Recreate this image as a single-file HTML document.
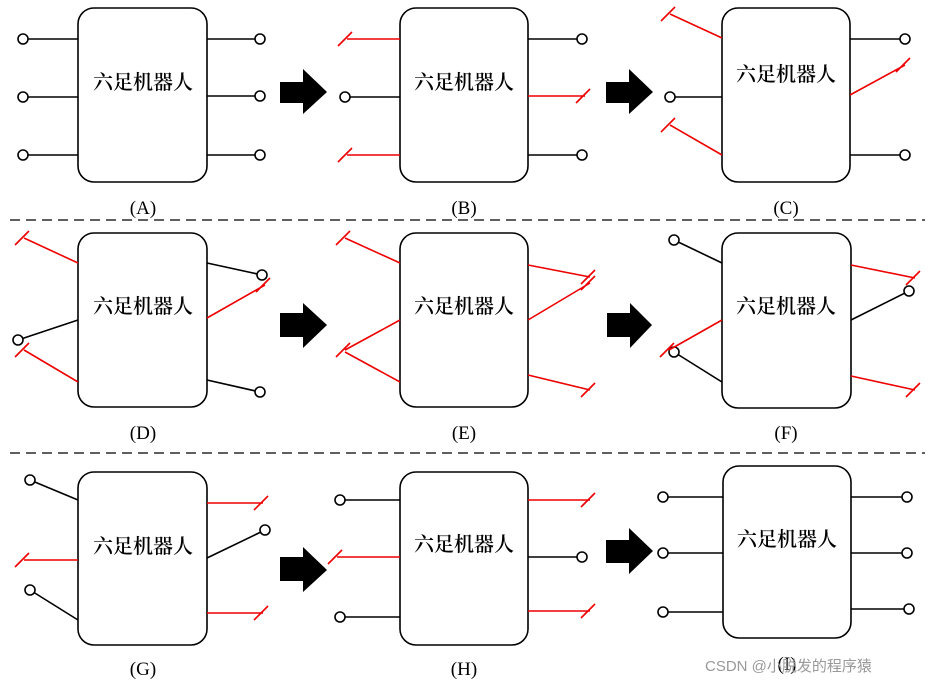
<!DOCTYPE html>
<html><head><meta charset="utf-8"><style>
body{margin:0;background:#fff;width:933px;height:684px;overflow:hidden}
svg{display:block}
text{font-family:"Liberation Serif","Noto Serif CJK SC",serif}
.c{font-family:"Noto Serif CJK SC",serif;font-weight:600}
.l{font-family:"Liberation Sans","Noto Sans CJK SC",sans-serif;font-size:19px}
</style></head><body>
<svg width="933" height="684" viewBox="0 0 933 684">
<g fill="none" stroke="#000" stroke-width="1.6">
<rect x="78" y="8" width="129" height="174" rx="16"/>
<rect x="400" y="8" width="128" height="174" rx="16"/>
<rect x="722" y="8" width="128" height="174" rx="16"/>
<rect x="78" y="233" width="129" height="174" rx="16"/>
<rect x="400" y="233" width="128" height="174" rx="16"/>
<rect x="722" y="233" width="129" height="175" rx="16"/>
<rect x="78" y="472" width="129" height="173" rx="16"/>
<rect x="400" y="472" width="128" height="173" rx="16"/>
<rect x="723" y="466" width="128" height="172" rx="16"/>
</g>
<g stroke="#000" stroke-width="1.2" stroke-dasharray="10,6"><line x1="10" y1="220" x2="925" y2="220"/><line x1="10" y1="453" x2="925" y2="453"/></g>
<g stroke="#000" stroke-width="1.6">
<line x1="78" y1="39" x2="23" y2="39"/><line x1="78" y1="97" x2="23" y2="97"/><line x1="78" y1="155" x2="23" y2="155"/>
<line x1="207" y1="39" x2="260" y2="39"/><line x1="207" y1="96" x2="260" y2="96"/><line x1="207" y1="155" x2="260" y2="155"/>
<line x1="400" y1="97" x2="345" y2="97"/><line x1="528" y1="39" x2="582" y2="39"/><line x1="528" y1="155" x2="582" y2="155"/>
<line x1="722" y1="97" x2="670" y2="97"/><line x1="850" y1="39" x2="905" y2="39"/><line x1="850" y1="155" x2="905" y2="155"/>
<line x1="78" y1="320" x2="18" y2="340"/><line x1="207" y1="263" x2="262" y2="275"/><line x1="207" y1="380" x2="260" y2="392"/>
<line x1="722" y1="263" x2="674" y2="240"/><line x1="722" y1="382" x2="674" y2="352"/><line x1="851" y1="320" x2="909" y2="291"/>
<line x1="78" y1="500" x2="30" y2="480"/><line x1="78" y1="620" x2="30" y2="590"/><line x1="207" y1="558" x2="265" y2="530"/>
<line x1="400" y1="500" x2="340" y2="500"/><line x1="400" y1="617" x2="340" y2="617"/><line x1="528" y1="557" x2="582" y2="557"/>
<line x1="723" y1="497" x2="663" y2="497"/><line x1="723" y1="553" x2="663" y2="553"/><line x1="723" y1="612" x2="663" y2="612"/>
<line x1="851" y1="497" x2="907" y2="497"/><line x1="851" y1="553" x2="907" y2="553"/><line x1="851" y1="609" x2="909" y2="609"/>
</g>
<g fill="#fff" stroke="#000" stroke-width="1.6">
<circle cx="23" cy="39" r="5"/><circle cx="23" cy="97" r="5"/><circle cx="23" cy="155" r="5"/>
<circle cx="260" cy="39" r="5"/><circle cx="260" cy="96" r="5"/><circle cx="260" cy="155" r="5"/>
<circle cx="345" cy="97" r="5"/><circle cx="582" cy="39" r="5"/><circle cx="582" cy="155" r="5"/>
<circle cx="670" cy="97" r="5"/><circle cx="905" cy="39" r="5"/><circle cx="905" cy="155" r="5"/>
<circle cx="18" cy="340" r="5"/><circle cx="262" cy="275" r="5"/><circle cx="260" cy="392" r="5"/>
<circle cx="674" cy="240" r="5"/><circle cx="674" cy="352" r="5"/><circle cx="909" cy="291" r="5"/>
<circle cx="30" cy="480" r="5"/><circle cx="30" cy="590" r="5"/><circle cx="265" cy="530" r="5"/>
<circle cx="340" cy="500" r="5"/><circle cx="340" cy="617" r="5"/><circle cx="582" cy="557" r="5"/>
<circle cx="663" cy="497" r="5"/><circle cx="663" cy="553" r="5"/><circle cx="663" cy="612" r="5"/>
<circle cx="907" cy="497" r="5"/><circle cx="907" cy="553" r="5"/><circle cx="909" cy="609" r="5"/>
</g>
<g stroke="#e00" stroke-width="1.6" fill="none">
<path d="M400 39H347M338 46L352 32"/><path d="M400 155H347M338 162L352 148"/><path d="M528 96H585M576 103L590 89"/>
<path d="M722 38L670 14M661 21L675 7"/><path d="M722 155L670 125M661 132L675 118"/><path d="M850 95L905 65M896 72L910 58"/>
<path d="M78 263L24 238M15 245L29 231"/><path d="M78 382L24 350M15 357L29 343"/><path d="M207 318L265 285M256 292L270 278"/>
<path d="M400 263L345 238M336 245L350 231"/><path d="M400 320L345 350M336 357L350 343"/><path d="M400 382L345 352"/>
<path d="M528 265L590 277M581 284L595 270"/><path d="M528 320L590 283M581 290L595 276"/><path d="M528 375L590 390M581 397L595 383"/>
<path d="M722 320L669 350M660 357L674 343"/><path d="M851 265L915 278M906 285L920 271"/><path d="M851 376L915 390M906 397L920 383"/>
<path d="M78 560H24M15 567L29 553"/><path d="M207 503H263M254 510L268 496"/><path d="M207 613H263M254 620L268 606"/>
<path d="M400 557H337M328 564L342 550"/><path d="M528 500H590M581 507L595 493"/><path d="M528 611H590M581 618L595 604"/>
</g>
<g fill="#000">
<path d="M280 82H303V69L327 92L303 114V103H280Z"/>
<path d="M606 82H629V69L653 92L629 114V103H606Z"/>
<path d="M280 313H303V303L327 325L303 348V337H280Z"/>
<path d="M607 313H630V303L652 325L630 348V337H607Z"/>
<path d="M280 557H303V547L327 570L303 592V581H280Z"/>
<path d="M606 540H629V528L653 551L629 574V563H606Z"/>
</g>
<g class="c" font-size="20" text-anchor="middle" fill="#000">
<text x="143" y="89">六足机器人</text><text x="464" y="89">六足机器人</text><text x="786" y="81">六足机器人</text>
<text x="143" y="313">六足机器人</text><text x="464" y="313">六足机器人</text><text x="786" y="313">六足机器人</text>
<text x="143" y="553">六足机器人</text><text x="464" y="551">六足机器人</text><text x="787" y="546">六足机器人</text>
</g>
<g class="l" text-anchor="middle">
<text x="143" y="214">(A)</text><text x="464" y="214">(B)</text><text x="786" y="214">(C)</text>
<text x="143" y="439">(D)</text><text x="464" y="439">(E)</text><text x="786" y="439">(F)</text>
<text x="143" y="675">(G)</text><text x="464" y="675">(H)</text><text x="787" y="670">(I)</text>
</g>
<text x="705" y="671" font-size="15" fill="#999" style="font-family:'Liberation Sans','Noto Sans CJK SC',sans-serif">CSDN @小脱发的程序猿</text>
</svg>
</body></html>
